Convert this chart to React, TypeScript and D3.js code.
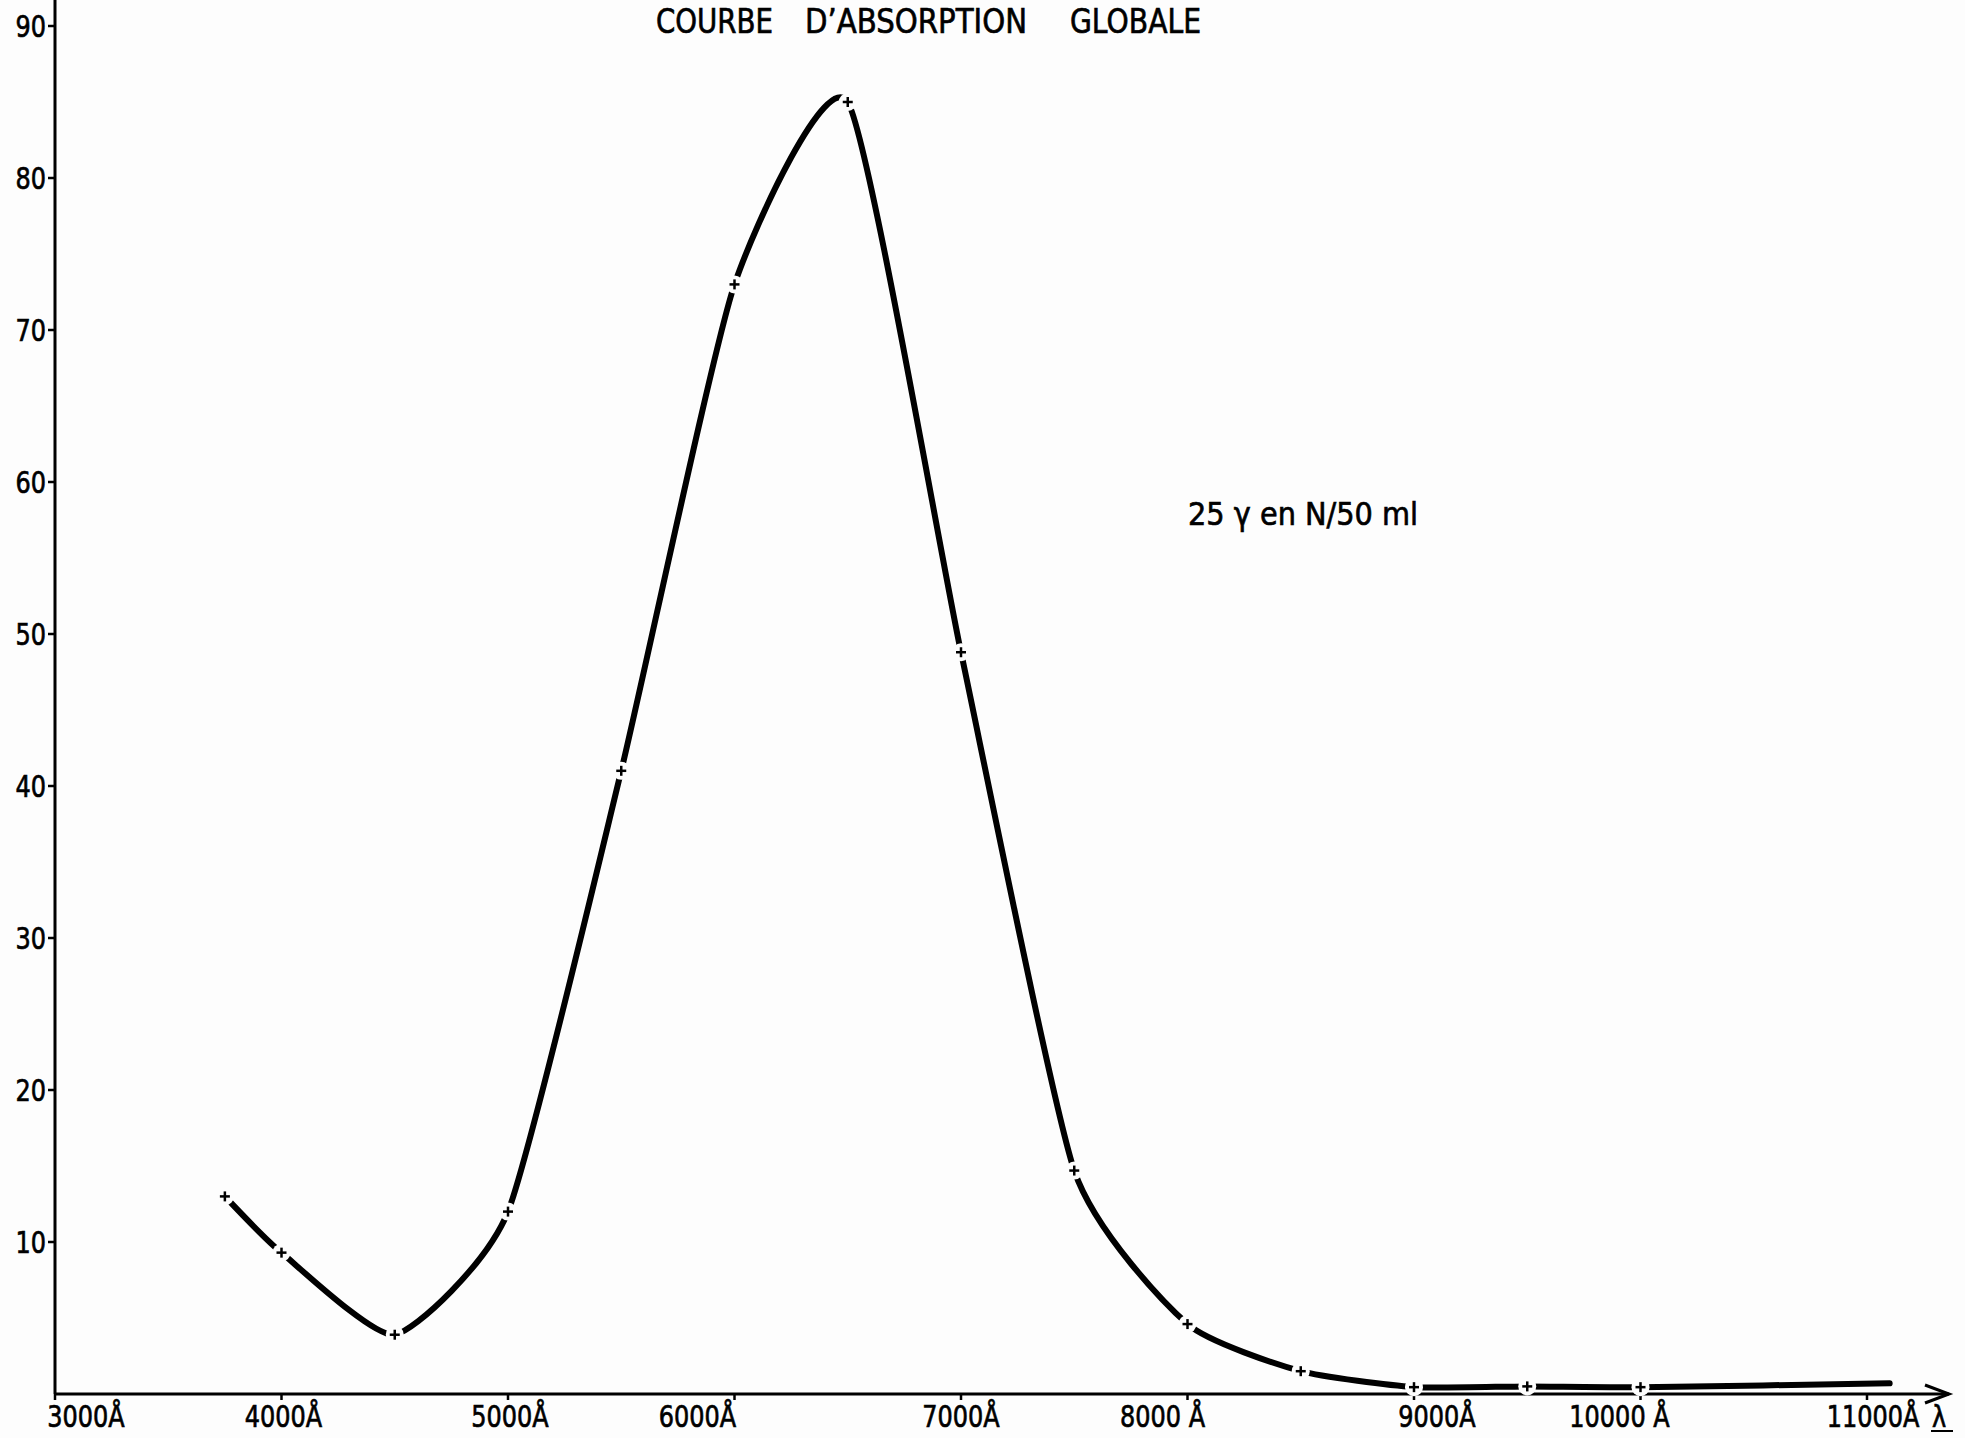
import * as d3 from "d3";

const wavelengths = [3750, 4000, 4500, 5000, 5500, 6000, 6500, 7000, 7500, 8000, 8500, 9000, 9500, 10000, 11100];
const absorption = [13, 9.3, 3.9, 12, 41, 73, 85, 48.8, 14.7, 4.6, 1.5, 0.45, 0.5, 0.45, 0.7];
// the last point is only where the pen stopped, no cross there
const markedCount = 14;

const xTicks = [3000, 4000, 5000, 6000, 7000, 8000, 9000, 10000, 11000];
const xTickLabels = ["3000Å", "4000Å", "5000Å", "6000Å", "7000Å", "8000 Å", "9000Å", "10000 Å", "11000Å"];
const yTicks = [10, 20, 30, 40, 50, 60, 70, 80, 90];

const titleWords = ["COURBE", "D\u2019ABSORPTION", "GLOBALE"];
const note = "25 γ  en N/50 ml";

export default function App() {
  const width = 1965,
    height = 1438;
  const font = "'DejaVu Sans', sans-serif";
  const squeeze = 0.8; // stencil lettering is narrow

  const xScale = d3.scaleLinear().domain([3000, 11000]).range([55, 1867]);
  const yScale = d3.scaleLinear().domain([0, 90]).range([1394, 26]);

  // hand lettering was not centred on the ticks
  const labelDx = [31, 2, 2, -37, 0, -25, 23, -21, 6];
  // where the three title words sit (x start, width)
  const titleBoxes = [
    [656, 117],
    [805, 222],
    [1070, 131],
  ];

  const points = wavelengths.map((w, i) => [w, absorption[i]] as [number, number]);
  // tendu : le tracé à la main est presque rectiligne entre les points
  const line = d3
    .line<[number, number]>()
    .x((d) => xScale(d[0]))
    .y((d) => yScale(d[1]))
    .curve(d3.curveCardinal.tension(0.45));

  const x0 = xScale(3000),
    y0 = yScale(0);
  const arrowX = 1949;
  const ink = { fill: "#000", stroke: "#000", strokeWidth: 0.7 };

  return (
    <svg
      width={width}
      height={height}
      style={{ position: "absolute", left: 0, top: 0, background: "#fdfdfd" }}
      fontFamily={font}
    >
      {titleWords.map((w, i) => (
        <text
          key={w}
          x={titleBoxes[i][0]}
          y={33}
          fontSize={34}
          textLength={titleBoxes[i][1]}
          lengthAdjust="spacingAndGlyphs"
          {...ink}
        >
          {w}
        </text>
      ))}

      {/* axe vertical */}
      <line x1={x0} y1={0} x2={x0} y2={y0} stroke="#000" strokeWidth={3} />
      {yTicks.map((t) => (
        <g key={t}>
          <line x1={x0 - 7} y1={yScale(t)} x2={x0} y2={yScale(t)} stroke="#000" strokeWidth={2.5} />
          <text
            transform={`translate(${x0 - 9},${yScale(t)}) scale(${squeeze},1)`}
            dy="0.36em"
            textAnchor="end"
            fontSize={30}
            {...ink}
          >
            {t}
          </text>
        </g>
      ))}

      {/* axe horizontal avec flèche */}
      <line x1={x0} y1={y0} x2={arrowX} y2={y0} stroke="#000" strokeWidth={3} />
      <path
        d={`M${arrowX - 24},${y0 - 9} L${arrowX},${y0} L${arrowX - 24},${y0 + 9}`}
        fill="none"
        stroke="#000"
        strokeWidth={3}
      />
      {xTicks.map((t, i) => (
        <g key={t}>
          <line x1={xScale(t)} y1={y0} x2={xScale(t)} y2={y0 + 6} stroke="#000" strokeWidth={2.5} />
          <text
            transform={`translate(${xScale(t) + labelDx[i]},${y0 + 33}) scale(${squeeze},1)`}
            textAnchor="middle"
            fontSize={30}
            {...ink}
          >
            {xTickLabels[i]}
          </text>
        </g>
      ))}
      <text transform={`translate(1932,${y0 + 33}) scale(${squeeze},1)`} fontSize={30} {...ink}>
        λ
      </text>
      <line x1={1931} y1={y0 + 37} x2={1953} y2={y0 + 37} stroke="#000" strokeWidth={2} />

      {/* courbe */}
      <path d={line(points) ?? ""} fill="none" stroke="#000" strokeWidth={6} strokeLinecap="round" />
      {points.slice(0, markedCount).map(([w, a]) => {
        const cx = xScale(w),
          cy = yScale(a);
        return (
          <g key={w}>
            <circle cx={cx} cy={cy} r={9} fill="#fdfdfd" />
            <line x1={cx - 5} y1={cy} x2={cx + 5} y2={cy} stroke="#000" strokeWidth={2.5} />
            <line x1={cx} y1={cy - 5} x2={cx} y2={cy + 5} stroke="#000" strokeWidth={2.5} />
          </g>
        );
      })}

      <text x={1188} y={525} fontSize={32} textLength={230} lengthAdjust="spacingAndGlyphs" {...ink}>
        {note}
      </text>
    </svg>
  );
}
